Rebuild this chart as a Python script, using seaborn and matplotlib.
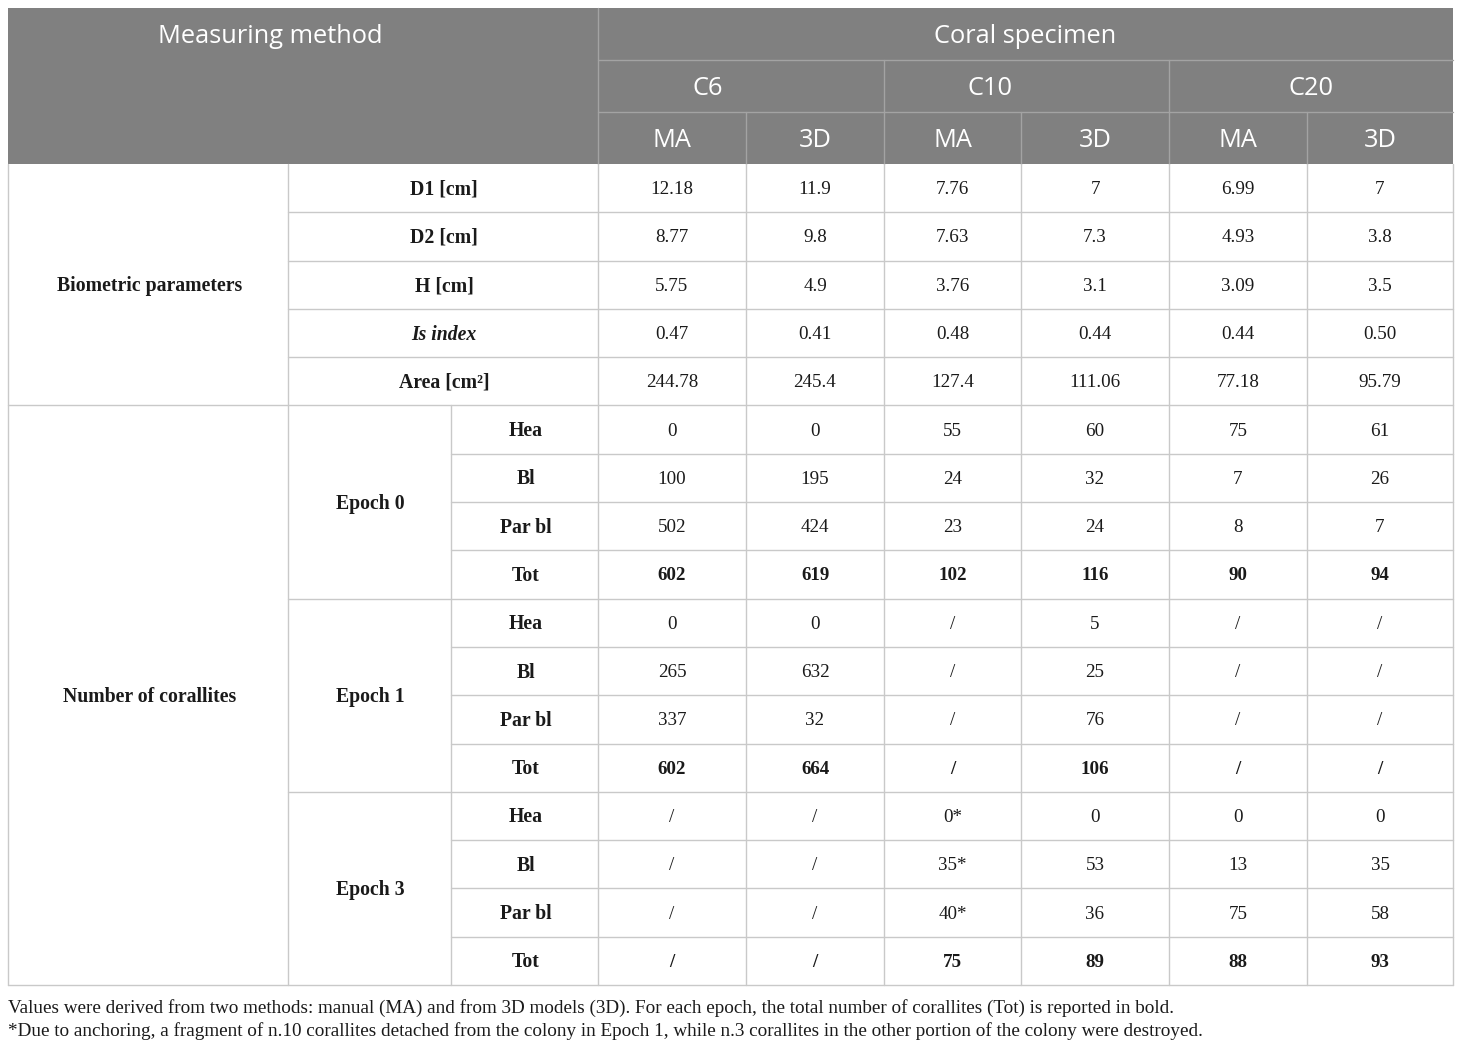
import matplotlib
matplotlib.use("Agg")
import matplotlib.pyplot as plt
import seaborn as sns

# ---------------- data ----------------
specimens = ["C6", "C10", "C20"]
methods = ["MA", "3D"]
group_labels = ["Biometric parameters", "Number of corallites"]
biometric_labels = ["D1 [cm]", "D2 [cm]", "H [cm]", "Is index", "Area [cm²]"]
d1_values = ["12.18", "11.9", "7.76", "7", "6.99", "7"]
d2_values = ["8.77", "9.8", "7.63", "7.3", "4.93", "3.8"]
h_values = ["5.75", "4.9", "3.76", "3.1", "3.09", "3.5"]
is_values = ["0.47", "0.41", "0.48", "0.44", "0.44", "0.50"]
area_values = ["244.78", "245.4", "127.4", "111.06", "77.18", "95.79"]

epoch_labels = ["Epoch 0", "Epoch 1", "Epoch 3"]
count_labels = ["Hea", "Bl", "Par bl", "Tot"]
epoch0_hea = ["0", "0", "55", "60", "75", "61"]
epoch0_bl = ["100", "195", "24", "32", "7", "26"]
epoch0_parbl = ["502", "424", "23", "24", "8", "7"]
epoch0_tot = ["602", "619", "102", "116", "90", "94"]
epoch1_hea = ["0", "0", "/", "5", "/", "/"]
epoch1_bl = ["265", "632", "/", "25", "/", "/"]
epoch1_parbl = ["337", "32", "/", "76", "/", "/"]
epoch1_tot = ["602", "664", "/", "106", "/", "/"]
epoch3_hea = ["/", "/", "0*", "0", "0", "0"]
epoch3_bl = ["/", "/", "35*", "53", "13", "35"]
epoch3_parbl = ["/", "/", "40*", "36", "75", "58"]
epoch3_tot = ["/", "/", "75", "89", "88", "93"]

caption_lines = [
    "Values were derived from two methods: manual (MA) and from 3D models (3D). "
    "For each epoch, the total number of corallites (Tot) is reported in bold.",
    "*Due to anchoring, a fragment of n.10 corallites detached from the colony in "
    "Epoch 1, while n.3 corallites in the other portion of the colony were destroyed.",
]

biometric_rows = [d1_values, d2_values, h_values, is_values, area_values]
epoch_rows = [
    [epoch0_hea, epoch0_bl, epoch0_parbl, epoch0_tot],
    [epoch1_hea, epoch1_bl, epoch1_parbl, epoch1_tot],
    [epoch3_hea, epoch3_bl, epoch3_parbl, epoch3_tot],
]

# ---------------- style ----------------
sns.set_theme(style="white")
SERIF = ["Liberation Serif", "DejaVu Serif"]
SANS = ["Open Sans", "DejaVu Sans"]
HEADER_BG = "#808080"
HEADER_LINE = "#a3a3a3"
GRID = "#c9c9c9"
TXT = "#1a1a1a"

fig = plt.figure(figsize=(14.6, 10.48), dpi=100)
ax = fig.add_axes([0, 0, 1, 1])
ax.set_xlim(0, 1460)
ax.set_ylim(1048, 0)
ax.axis("off")

# layout (pixel grid)
xe = [8, 288, 451, 598, 746, 884, 1021, 1169, 1307, 1453]
ye_head = [8, 60, 112, 164]
y0, y1 = 164, 985
n_rows = 17
rh = (y1 - y0) / n_rows
ye = [y0 + i * rh for i in range(n_rows + 1)]
data_cx = [(xe[i] + xe[i + 1]) / 2 for i in range(3, 9)]

# ---------------- header ----------------
ax.add_patch(plt.Rectangle((xe[0], ye_head[0]), xe[-1] - xe[0], ye_head[-1] - ye_head[0],
                           facecolor=HEADER_BG, edgecolor="none", zorder=1))
hl = dict(color=HEADER_LINE, lw=1.0, zorder=2)
ax.plot([xe[3], xe[3]], [ye_head[0], ye_head[3]], **hl)
ax.plot([xe[3], xe[-1]], [ye_head[1], ye_head[1]], **hl)
ax.plot([xe[3], xe[-1]], [ye_head[2], ye_head[2]], **hl)
for xi in (xe[5], xe[7]):
    ax.plot([xi, xi], [ye_head[1], ye_head[3]], **hl)
for xi in (xe[4], xe[6], xe[8]):
    ax.plot([xi, xi], [ye_head[2], ye_head[3]], **hl)

htxt = dict(color="white", family=SANS, fontsize=18.3, ha="center", va="center", zorder=3)
hoff = 2.5
ax.text(270, 34 + hoff, "Measuring method", **htxt)
ax.text(1025, 34 + hoff, "Coral specimen", **htxt)
spec_x = [708, 990, 1311]
for sx, s in zip(spec_x, specimens):
    ax.text(sx, 86 + hoff, s, **htxt)
for i, cx in enumerate(data_cx):
    ax.text(cx, 138 + hoff, methods[i % 2], **htxt)

# ---------------- body grid ----------------
gl = dict(color=GRID, lw=1.0, zorder=2)
ax.plot([xe[0], xe[0]], [y0, y1], **gl)
ax.plot([xe[-1], xe[-1]], [y0, y1], **gl)
ax.plot([xe[1], xe[1]], [y0, y1], **gl)
ax.plot([xe[2], xe[2]], [ye[5], y1], **gl)
for xi in xe[3:9]:
    ax.plot([xi, xi], [y0, y1], **gl)
for r in range(1, n_rows):
    if r == 5:
        x_start = xe[0]
    elif r < 5 or r in (9, 13):
        x_start = xe[1]
    else:
        x_start = xe[2]
    ax.plot([x_start, xe[-1]], [ye[r], ye[r]], **gl)
ax.plot([xe[0], xe[-1]], [y1, y1], **gl)

# ---------------- body text ----------------
btxt = dict(color=TXT, family=SERIF, ha="center", va="center", zorder=3)
FS_LAB = 14.2
FS_VAL = 13.7
boff = 1.5

def rc(r):
    return (ye[r] + ye[r + 1]) / 2 + boff

ax.text(150, (ye[0] + ye[5]) / 2 + boff, group_labels[0], fontweight="bold", fontsize=FS_LAB, **btxt)
ax.text(150, (ye[5] + ye[17]) / 2 + boff, group_labels[1], fontweight="bold", fontsize=FS_LAB, **btxt)

lab_x = (xe[1] + xe[3]) / 2 + 1
for r, (lab, vals) in enumerate(zip(biometric_labels, biometric_rows)):
    style = "italic" if lab == "Is index" else "normal"
    ax.text(lab_x, rc(r), lab, fontweight="bold", fontstyle=style, fontsize=FS_LAB, **btxt)
    for cx, v in zip(data_cx, vals):
        ax.text(cx, rc(r), v, fontsize=FS_VAL, **btxt)

r = 5
for e, rows in zip(epoch_labels, epoch_rows):
    ax.text((xe[1] + xe[2]) / 2 + 1, (ye[r] + ye[r + 4]) / 2 + boff, e,
            fontweight="bold", fontsize=FS_LAB, **btxt)
    for lab, vals in zip(count_labels, rows):
        ax.text((xe[2] + xe[3]) / 2 + 1, rc(r), lab, fontweight="bold", fontsize=FS_LAB, **btxt)
        w = "bold" if lab == "Tot" else "normal"
        for cx, v in zip(data_cx, vals):
            ax.text(cx, rc(r), v, fontweight=w, fontsize=FS_VAL, **btxt)
        r += 1

# ---------------- caption ----------------
ax.text(8, 1008, caption_lines[0], color=TXT, family=SERIF, fontsize=13.8, ha="left", va="center")
ax.text(8, 1031, caption_lines[1], color=TXT, family=SERIF, fontsize=13.8, ha="left", va="center")

fig.savefig("out.png", dpi=100, facecolor="white")
